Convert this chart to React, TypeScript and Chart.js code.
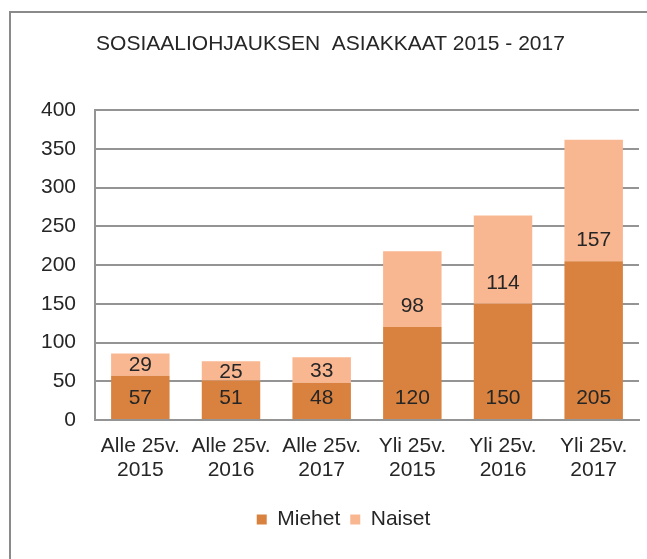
import React, { useEffect, useRef } from "react";
import { Chart, registerables } from "chart.js";

Chart.register(...registerables);

const titleText = "SOSIAALIOHJAUKSEN  ASIAKKAAT 2015 - 2017";
const categories: string[][] = [
  ["Alle 25v.", "2015"],
  ["Alle 25v.", "2016"],
  ["Alle 25v.", "2017"],
  ["Yli 25v.", "2015"],
  ["Yli 25v.", "2016"],
  ["Yli 25v.", "2017"],
];
const seriesNames = ["Miehet", "Naiset"];
const miehet = [57, 51, 48, 120, 150, 205];
const naiset = [29, 25, 33, 98, 114, 157];
const yMin = 0;
const yMax = 400;
const yStep = 50;

const FONT = "'Liberation Sans', Arial, sans-serif";
const FS = 21;
const TEXT = "#262626";
const GRID = "#949494";
const C_MIEHET = "#D9823F";
const C_NAISET = "#F9B791";

// Excel-like "inside base" data labels: near the segment base, centred when they would not fit
const valueLabels = {
  id: "valueLabels",
  afterDatasetsDraw(chart: any) {
    const ctx = chart.ctx;
    ctx.save();
    ctx.font = `${FS}px ${FONT}`;
    ctx.fillStyle = TEXT;
    ctx.textAlign = "center";
    ctx.textBaseline = "middle";
    chart.data.datasets.forEach((ds: any, i: number) => {
      const meta = chart.getDatasetMeta(i);
      meta.data.forEach((el: any, j: number) => {
        const p = el.getProps(["x", "y", "base"], true);
        const top = Math.min(p.y, p.base);
        const bottom = Math.max(p.y, p.base);
        let yy = bottom - 22;
        if (yy - 10 < top) yy = (top + bottom) / 2;
        ctx.fillText(String(ds.data[j]), p.x, yy + 1);
      });
    });
    ctx.restore();
  },
};

// nudge title and legend horizontally to match the reference placement
const nudge = {
  id: "nudge",
  afterLayout(chart: any) {
    if (chart.titleBlock) {
      chart.titleBlock.left += 11;
      chart.titleBlock.right += 11;
    }
    if (chart.legend) {
      chart.legend.left += 24;
      chart.legend.right += 24;
    }
  },
};

export default function App() {
  const ref = useRef<HTMLCanvasElement | null>(null);

  useEffect(() => {
    if (!ref.current) return;
    const chart = new Chart(ref.current, {
      type: "bar",
      data: {
        labels: categories,
        datasets: [
          {
            label: seriesNames[0],
            data: miehet,
            backgroundColor: C_MIEHET,
            borderWidth: 0,
            categoryPercentage: 1,
            barPercentage: 0.645,
          },
          {
            label: seriesNames[1],
            data: naiset,
            backgroundColor: C_NAISET,
            borderWidth: 0,
            categoryPercentage: 1,
            barPercentage: 0.645,
          },
        ],
      },
      options: {
        responsive: false,
        animation: false,
        layout: { padding: { left: 0, right: 8, top: 0, bottom: 19 } },
        plugins: {
          title: {
            display: true,
            text: titleText,
            color: TEXT,
            font: { family: FONT, size: FS, weight: "normal", lineHeight: 1.2 },
            padding: { top: 32, bottom: 53 },
          },
          legend: {
            display: true,
            position: "bottom",
            labels: {
              color: TEXT,
              font: { family: FONT, size: FS },
              boxWidth: 10,
              boxHeight: 10,
              padding: 10,
            },
          },
          tooltip: { enabled: false },
        },
        scales: {
          x: {
            stacked: true,
            grid: { display: false, drawTicks: false },
            border: { display: true, color: GRID, width: 2 },
            ticks: {
              color: TEXT,
              font: { family: FONT, size: FS, lineHeight: 1.15 },
              padding: 14,
              maxRotation: 0,
              autoSkip: false,
            },
            afterFit: (s: any) => {
              s.height = 79;
            },
          },
          y: {
            stacked: true,
            min: yMin,
            max: yMax,
            grid: { color: GRID, lineWidth: 2, drawTicks: false },
            border: { display: true, color: GRID, width: 2 },
            ticks: {
              stepSize: yStep,
              color: TEXT,
              font: { family: FONT, size: FS },
              padding: 19,
            },
            afterFit: (s: any) => {
              s.width = 95;
            },
          },
        },
      },
      plugins: [valueLabels, nudge],
    } as any);
    return () => chart.destroy();
  }, []);

  return (
    <div
      style={{
        position: "fixed",
        left: 0,
        top: 0,
        width: 647,
        height: 559,
        overflow: "hidden",
        background: "#fff",
      }}
    >
      <div
        style={{
          position: "absolute",
          left: 9,
          top: 11,
          width: 700,
          height: 600,
          border: "2px solid #8a8a8a",
        }}
      />
      <canvas
        ref={ref}
        width={647}
        height={559}
        style={{ position: "absolute", left: 0, top: 0 }}
      />
    </div>
  );
}
